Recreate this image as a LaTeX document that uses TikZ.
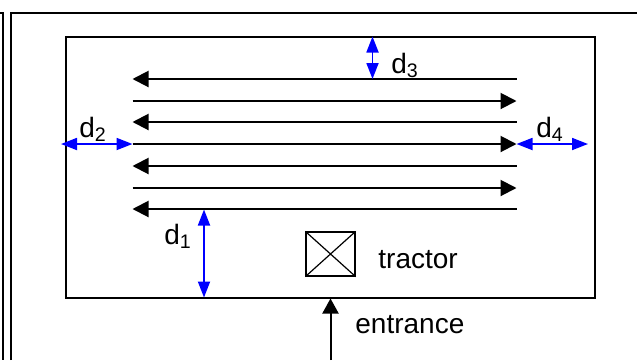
\documentclass[tikz,border=0pt]{standalone}
\usepackage{fontspec}
\setmainfont{Liberation Sans}
\usetikzlibrary{arrows.meta,shapes.misc}
\tikzset{
  thickline/.style={draw=black, line width=1pt},
  swath/.style={line width=1pt, -{Triangle[length=8pt,width=8pt]}},
  gap/.style={draw=blue, line width=.9pt, {Triangle[length=8pt,width=6pt]}-{Triangle[length=8pt,width=6pt]}},
  lbl/.style={inner sep=0pt, anchor=base west, font=\fontsize{14}{16}\selectfont}
}
\begin{document}
\begin{tikzpicture}[x=0.5pt,y=-0.5pt]
  \useasboundingbox (0,0) rectangle (637,360);

  % Frames around the picture
  \draw[thickline] (0,12.5) -- (2.5,12.5) -- (2.5,360);
  \draw[thickline] (11,360) -- (11,12.5) -- (637,12.5);
  \node[thickline, minimum width=264.25pt, minimum height=130.5pt, inner sep=0pt] (field) at (330.25,167) {};

  % Swaths: odd rows run to the left, even rows to the right
  \foreach \i/\y in {1/79,2/101,3/122,4/144,5/166,6/188,7/209} {
    \coordinate (west\i) at (132.5,\y);
    \coordinate (east\i) at (516.5,\y);
  }
  \foreach \i in {1,3,5,7} {
    \draw[swath] (east\i) -- (west\i);
  }
  \foreach \i in {2,4,6} {
    \draw[swath] (west\i) -- (east\i);
  }

  % Distances
  \coordinate (d2out) at (61,144);
  \coordinate (d4out) at (588,144);
  \coordinate (d3top) at (372.5,36.5);
  \coordinate (d3bot) at (372.5,79);
  \coordinate (d1top) at (204,209.5);
  \coordinate (d1bot) at (204,297.5);
  \draw[gap] (d2out) -- (west4);
  \draw[gap] (east4) -- (d4out);
  \draw[gap] (d3top) -- (d3bot);
  \draw[gap] (d1top) -- (d1bot);

  \node[lbl] (d1) at (164,244) {d\textsubscript{1}};
  \node[lbl] (d2) at (79,137.5) {d\textsubscript{2}};
  \node[lbl] (d3) at (391,73) {d\textsubscript{3}};
  \node[lbl] (d4) at (536,137.5) {d\textsubscript{4}};

  % Tractor and way in
  \node[cross out, draw=black, line width=.6pt, minimum width=24.5pt, minimum height=22pt, inner sep=0pt] (tractorcross) at (330.5,254) {};
  \node[draw=black, line width=.9pt, minimum width=24.5pt, minimum height=22pt, inner sep=0pt] (tractorbox) at (330.5,254) {};
  \node[lbl] (tractor) at (378,268) {tractor};
  \node[lbl] (entrance) at (355,333) {entrance};
  \coordinate (gate) at (330.5,298.5);
  \coordinate (road) at (330.5,360);
  \draw[line width=1pt, -{Triangle[length=7.5pt,width=8pt]}] (road) -- (gate);
\end{tikzpicture}
\end{document}
